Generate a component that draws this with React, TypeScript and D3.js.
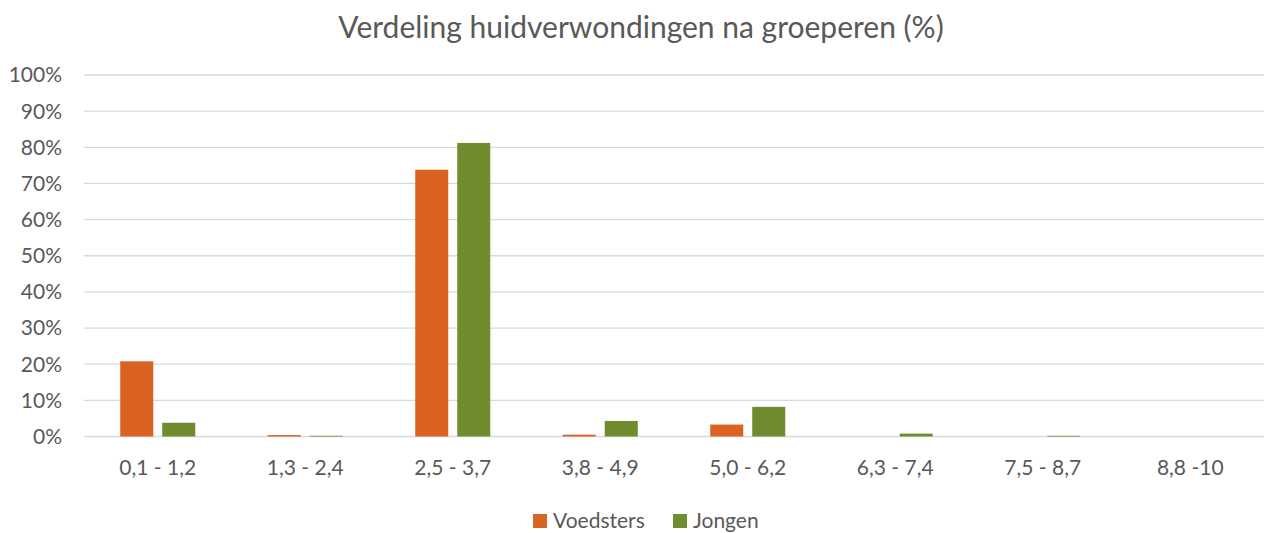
import React, { useEffect, useRef } from 'react';
import * as d3 from 'd3';

const categories = ['0,1 - 1,2', '1,3 - 2,4', '2,5 - 3,7', '3,8 - 4,9', '5,0 - 6,2', '6,3 - 7,4', '7,5 - 8,7', '8,8 -10'];
const voedsters = [20.8, 0.4, 73.8, 0.5, 3.3, 0, 0, 0];
const jongen = [3.8, 0.2, 81.2, 4.3, 8.2, 0.8, 0.2, 0];
const yTicks = [0, 10, 20, 30, 40, 50, 60, 70, 80, 90, 100];

const seriesNames = ['Voedsters', 'Jongen'];
const colors = ['#DA6322', '#6F8C2E'];

const App = () => {
  const svgRef = useRef<SVGSVGElement>(null);
  const width = 1266;
  const height = 533;
  const margin = { top: 75, right: 2, bottom: 96, left: 84 };

  useEffect(() => {
    const svg = d3.select(svgRef.current);
    svg.selectAll('*').remove();

    const font = 'Lato, "Open Sans", sans-serif';
    const textColor = '#595959';
    const labelSize = '21px';

    const x = d3.scaleBand<string>()
      .domain(categories)
      .range([margin.left, width - margin.right]);

    const inner = d3.scaleBand<string>()
      .domain(seriesNames)
      .range([0, x.bandwidth()])
      .paddingInner(0.214)
      .paddingOuter(0.863);

    const y = d3.scaleLinear()
      .domain([0, 100])
      .range([height - margin.bottom - 0.5, margin.top]);

    // Title
    svg.append('text')
      .attr('x', 641)
      .attr('y', 38)
      .attr('text-anchor', 'middle')
      .style('font-family', font)
      .style('font-size', '30px')
      .style('fill', textColor)
      .text('Verdeling huidverwondingen na groeperen (%)');

    // Gridlines
    svg.append('g')
      .selectAll('line')
      .data(yTicks)
      .enter()
      .append('line')
      .attr('x1', margin.left)
      .attr('x2', width - margin.right)
      .attr('y1', d => y(d))
      .attr('y2', d => y(d))
      .attr('stroke', '#D9D9D9')
      .attr('stroke-width', 1.3);

    // Y axis labels
    svg.append('g')
      .selectAll('text')
      .data(yTicks)
      .enter()
      .append('text')
      .attr('x', 62)
      .attr('y', d => y(d))
      .attr('dy', '0.35em')
      .attr('text-anchor', 'end')
      .style('font-family', font)
      .style('font-size', labelSize)
      .style('fill', textColor)
      .text(d => `${d}%`);

    // Bars
    const series = [voedsters, jongen];
    series.forEach((values, si) => {
      svg.append('g')
        .selectAll('rect')
        .data(values)
        .enter()
        .append('rect')
        .attr('x', (d, i) => (x(categories[i]) ?? 0) + (inner(seriesNames[si]) ?? 0))
        .attr('y', d => y(d))
        .attr('width', inner.bandwidth())
        .attr('height', d => y(0) - y(d))
        .attr('fill', colors[si]);
    });

    // X axis labels
    svg.append('g')
      .selectAll('text')
      .data(categories)
      .enter()
      .append('text')
      .attr('x', d => (x(d) ?? 0) + x.bandwidth() / 2)
      .attr('y', 468)
      .attr('dy', '0.35em')
      .attr('text-anchor', 'middle')
      .style('font-family', font)
      .style('font-size', labelSize)
      .style('fill', textColor)
      .text(d => d);

    // Legend
    const legendX = [533, 673];
    seriesNames.forEach((name, i) => {
      const g = svg.append('g').attr('transform', `translate(${legendX[i]}, 521)`);
      g.append('rect')
        .attr('x', 0)
        .attr('y', -7)
        .attr('width', 14)
        .attr('height', 14)
        .attr('fill', colors[i]);
      g.append('text')
        .attr('x', 20)
        .attr('y', 0)
        .attr('dy', '0.35em')
        .style('font-family', font)
        .style('font-size', labelSize)
        .style('fill', textColor)
        .text(name);
    });
  }, []);

  return (
    <div style={{ position: 'absolute', left: 0, top: 0 }}>
      <svg ref={svgRef} width={width} height={height} style={{ display: 'block', background: '#fff' }}></svg>
    </div>
  );
};

export default App;
